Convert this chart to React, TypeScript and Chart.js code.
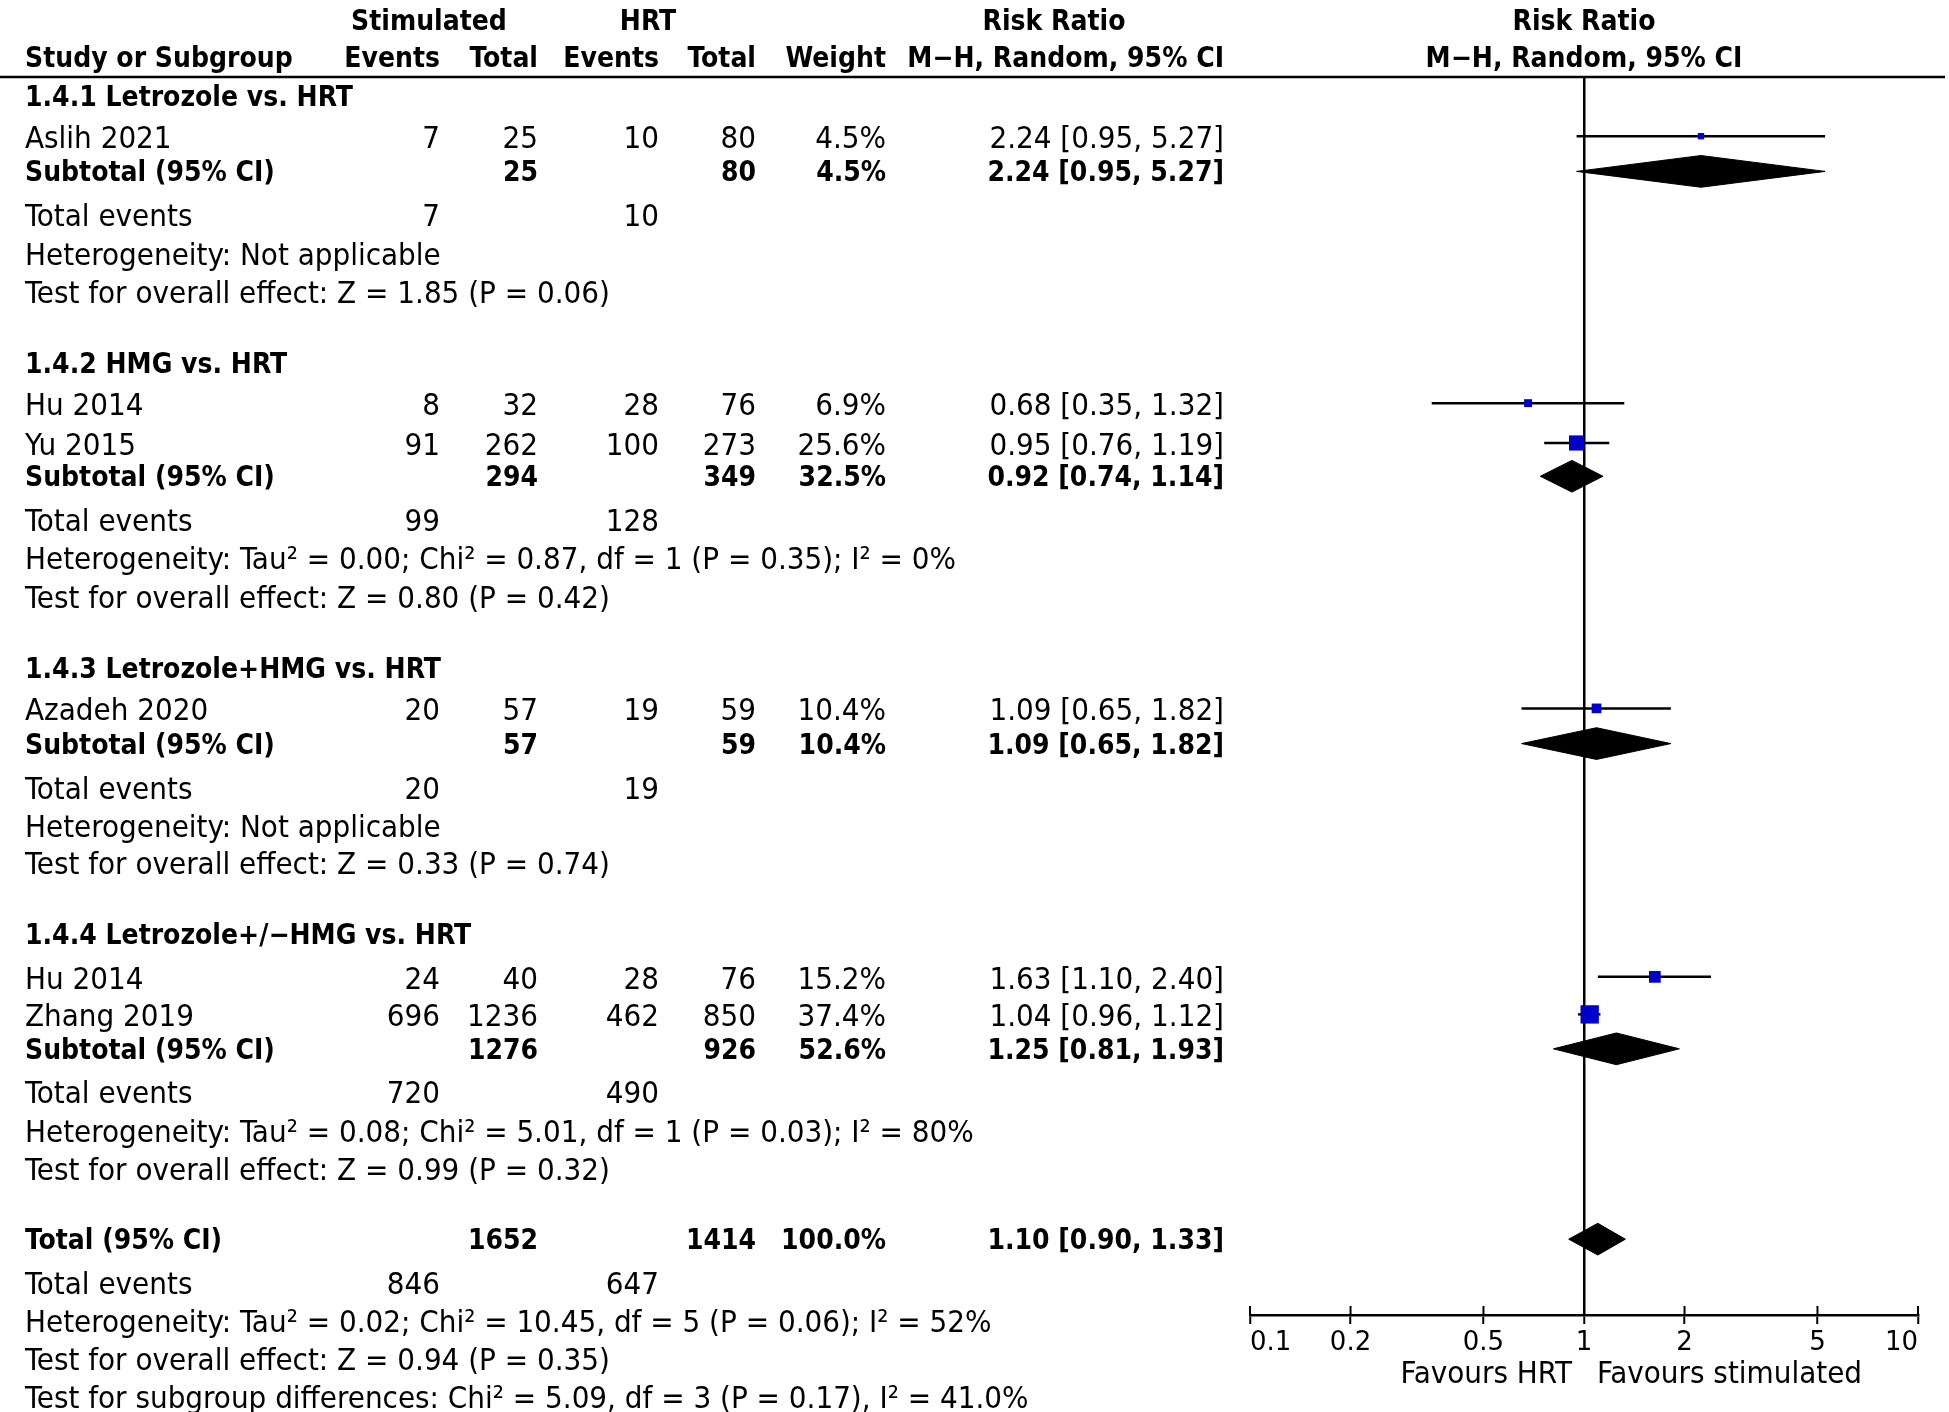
import React, { useEffect, useRef } from 'react';
import { Chart, registerables } from 'chart.js';

Chart.register(...registerables);

// ---------------- data ----------------
const studyNames = ['Aslih 2021', 'Hu 2014', 'Yu 2015', 'Azadeh 2020', 'Hu 2014', 'Zhang 2019'];
const stimEvents = [7, 8, 91, 20, 24, 696];
const stimTotal = [25, 32, 262, 57, 40, 1236];
const hrtEvents = [10, 28, 100, 19, 28, 462];
const hrtTotal = [80, 76, 273, 59, 76, 850];
const studyWeight = [4.5, 6.9, 25.6, 10.4, 15.2, 37.4];
const studyRR = [2.24, 0.68, 0.95, 1.09, 1.63, 1.04];
const studyLo = [0.95, 0.35, 0.76, 0.65, 1.1, 0.96];
const studyHi = [5.27, 1.32, 1.19, 1.82, 2.4, 1.12];

const groupTitles = [
  '1.4.1 Letrozole vs. HRT',
  '1.4.2 HMG vs. HRT',
  '1.4.3 Letrozole+HMG vs. HRT',
  '1.4.4 Letrozole+/\u2212HMG vs. HRT',
];
const groupStimTotal = [25, 294, 57, 1276];
const groupHrtTotal = [80, 349, 59, 926];
const groupWeight = [4.5, 32.5, 10.4, 52.6];
const groupRR = [2.24, 0.92, 1.09, 1.25];
const groupLo = [0.95, 0.74, 0.65, 0.81];
const groupHi = [5.27, 1.14, 1.82, 1.93];
const groupStimEvents = [7, 99, 20, 720];
const groupHrtEvents = [10, 128, 19, 490];
const groupHet = [
  'Heterogeneity: Not applicable',
  'Heterogeneity: Tau\u00b2 = 0.00; Chi\u00b2 = 0.87, df = 1 (P = 0.35); I\u00b2 = 0%',
  'Heterogeneity: Not applicable',
  'Heterogeneity: Tau\u00b2 = 0.08; Chi\u00b2 = 5.01, df = 1 (P = 0.03); I\u00b2 = 80%',
];
const groupTest = [
  'Test for overall effect: Z = 1.85 (P = 0.06)',
  'Test for overall effect: Z = 0.80 (P = 0.42)',
  'Test for overall effect: Z = 0.33 (P = 0.74)',
  'Test for overall effect: Z = 0.99 (P = 0.32)',
];

const totalStim = 1652;
const totalHrt = 1414;
const totalWeight = 100.0;
const totalRR = 1.1;
const totalLo = 0.9;
const totalHi = 1.33;
const totalStimEvents = 846;
const totalHrtEvents = 647;
const totalHet = 'Heterogeneity: Tau\u00b2 = 0.02; Chi\u00b2 = 10.45, df = 5 (P = 0.06); I\u00b2 = 52%';
const totalTest = 'Test for overall effect: Z = 0.94 (P = 0.35)';
const subgroupTest = 'Test for subgroup differences: Chi\u00b2 = 5.09, df = 3 (P = 0.17), I\u00b2 = 41.0%';

const xTicks = [0.1, 0.2, 0.5, 1, 2, 5, 10];

// ---------------- layout (row positions in line units) ----------------
const headerRows = [-1.47, -0.52];
const groupTitleRow = [0.48, 7.4, 15.28, 22.16];
const studyRow = [1.53, 8.43, 9.46, 16.32, 23.26, 24.23];
const subtotalRow = [2.44, 10.32, 17.23, 25.12];
const groupEventsRow = [3.57, 11.45, 18.37, 26.23];
const groupHetRow = [4.57, 12.44, 19.35, 27.24];
const groupTestRow = [5.56, 13.44, 20.32, 28.22];
const totalRow = 30.04;
const totalEventsRow = 31.16;
const totalHetRow = 32.15;
const totalTestRow = 33.15;
const subgroupRow = 34.12;

const COL = { study: 25, stimEv: 440, stimTot: 538, hrtEv: 659, hrtTot: 756, weight: 886, rr: 1224 };
const FONT = '"DejaVu Sans Condensed", "DejaVu Sans", sans-serif';
const FS = 31;
const FS_BOLD = 28;
const STUDY_TEXT_SHIFT = 1;
const DIAMOND_HALF = 0.41;
const SQUARE_COLOR = '#0000C8';

const fmtRR = (rr: number, lo: number, hi: number) => `${rr.toFixed(2)} [${lo.toFixed(2)}, ${hi.toFixed(2)}]`;
const fmtW = (w: number) => `${w.toFixed(1)}%`;

const diamond = (rr: number, lo: number, hi: number, row: number) => ({
  type: 'line' as const,
  data: [
    { x: lo, y: row },
    { x: rr, y: row - DIAMOND_HALF },
    { x: hi, y: row },
    { x: rr, y: row + DIAMOND_HALF },
    { x: lo, y: row },
  ],
  borderColor: '#000',
  borderWidth: 1,
  backgroundColor: '#000',
  fill: 'shape' as const,
  pointRadius: 0,
  tension: 0,
});

const ciLine = (lo: number, hi: number, row: number) => ({
  type: 'line' as const,
  data: [
    { x: lo, y: row },
    { x: hi, y: row },
  ],
  borderColor: '#000',
  borderWidth: 2.5,
  pointRadius: 0,
  fill: false,
  tension: 0,
});

const tablePlugin = {
  id: 'forestTable',
  afterDraw(chart: any) {
    const ctx: CanvasRenderingContext2D = chart.ctx;
    const ys = chart.scales.y;
    const xs = chart.scales.x;
    const py = (r: number) => ys.getPixelForValue(r);
    const one = xs.getPixelForValue(1);
    ctx.save();
    ctx.fillStyle = '#000';
    ctx.textBaseline = 'alphabetic';
    const T = (s: string, x: number, row: number, align: CanvasTextAlign, bold = false, shift = 0) => {
      ctx.font = bold ? `bold ${FS_BOLD}px ${FONT}` : `${FS}px ${FONT}`;
      ctx.textAlign = align;
      ctx.fillText(s, x, py(row) + (bold ? 10 : 11) + shift);
    };

    // header line
    ctx.strokeStyle = '#000';
    ctx.lineWidth = 2.5;
    ctx.beginPath();
    ctx.moveTo(0, chart.chartArea.top);
    ctx.lineTo(1945, chart.chartArea.top);
    ctx.stroke();

    // headers
    T('Stimulated', 429, headerRows[0], 'center', true);
    T('HRT', 648, headerRows[0], 'center', true);
    T('Risk Ratio', 1054, headerRows[0], 'center', true);
    T('Risk Ratio', one, headerRows[0], 'center', true);
    T('Study or Subgroup', COL.study, headerRows[1], 'left', true);
    T('Events', COL.stimEv, headerRows[1], 'right', true);
    T('Total', COL.stimTot, headerRows[1], 'right', true);
    T('Events', COL.hrtEv, headerRows[1], 'right', true);
    T('Total', COL.hrtTot, headerRows[1], 'right', true);
    T('Weight', COL.weight, headerRows[1], 'right', true);
    T('M\u2212H, Random, 95% CI', COL.rr, headerRows[1], 'right', true);
    T('M\u2212H, Random, 95% CI', one, headerRows[1], 'center', true);

    // studies
    studyNames.forEach((n, i) => {
      const r = studyRow[i];
      const s = STUDY_TEXT_SHIFT;
      T(n, COL.study, r, 'left', false, s);
      T(String(stimEvents[i]), COL.stimEv, r, 'right', false, s);
      T(String(stimTotal[i]), COL.stimTot, r, 'right', false, s);
      T(String(hrtEvents[i]), COL.hrtEv, r, 'right', false, s);
      T(String(hrtTotal[i]), COL.hrtTot, r, 'right', false, s);
      T(fmtW(studyWeight[i]), COL.weight, r, 'right', false, s);
      T(fmtRR(studyRR[i], studyLo[i], studyHi[i]), COL.rr, r, 'right', false, s);
    });

    // groups
    groupTitles.forEach((t, g) => {
      T(t, COL.study, groupTitleRow[g], 'left', true);
      const r = subtotalRow[g];
      T('Subtotal (95% CI)', COL.study, r, 'left', true);
      T(String(groupStimTotal[g]), COL.stimTot, r, 'right', true);
      T(String(groupHrtTotal[g]), COL.hrtTot, r, 'right', true);
      T(fmtW(groupWeight[g]), COL.weight, r, 'right', true);
      T(fmtRR(groupRR[g], groupLo[g], groupHi[g]), COL.rr, r, 'right', true);
      T('Total events', COL.study, groupEventsRow[g], 'left');
      T(String(groupStimEvents[g]), COL.stimEv, groupEventsRow[g], 'right');
      T(String(groupHrtEvents[g]), COL.hrtEv, groupEventsRow[g], 'right');
      T(groupHet[g], COL.study, groupHetRow[g], 'left');
      T(groupTest[g], COL.study, groupTestRow[g], 'left');
    });

    // overall
    T('Total (95% CI)', COL.study, totalRow, 'left', true);
    T(String(totalStim), COL.stimTot, totalRow, 'right', true);
    T(String(totalHrt), COL.hrtTot, totalRow, 'right', true);
    T(fmtW(totalWeight), COL.weight, totalRow, 'right', true);
    T(fmtRR(totalRR, totalLo, totalHi), COL.rr, totalRow, 'right', true);
    T('Total events', COL.study, totalEventsRow, 'left');
    T(String(totalStimEvents), COL.stimEv, totalEventsRow, 'right');
    T(String(totalHrtEvents), COL.hrtEv, totalEventsRow, 'right');
    T(totalHet, COL.study, totalHetRow, 'left');
    T(totalTest, COL.study, totalTestRow, 'left');
    T(subgroupTest, COL.study, subgroupRow, 'left');

    // upward tick stubs on axis
    const axisY = chart.chartArea.bottom;
    ctx.lineWidth = 2;
    xs.ticks.forEach((t: any) => {
      const px = xs.getPixelForValue(t.value);
      ctx.beginPath();
      ctx.moveTo(px, axisY - 9);
      ctx.lineTo(px, axisY);
      ctx.stroke();
    });

    // favours labels
    ctx.font = `${FS}px ${FONT}`;
    ctx.textAlign = 'right';
    ctx.fillText('Favours HRT', one - 12, axisY + 68);
    ctx.textAlign = 'left';
    ctx.fillText('Favours stimulated', one + 13, axisY + 68);
    ctx.restore();
  },
};

export default function App() {
  const ref = useRef<HTMLCanvasElement | null>(null);
  useEffect(() => {
    if (!ref.current) return;
    const squares = {
      type: 'scatter' as const,
      data: studyRR.map((v, i) => ({ x: v, y: studyRow[i] })),
      pointStyle: 'rect',
      pointRadius: studyWeight.map((w) => (3 * Math.sqrt(w)) / Math.SQRT2),
      pointBackgroundColor: SQUARE_COLOR,
      pointBorderWidth: 0,
      borderWidth: 0,
      showLine: false,
    };
    const datasets: any[] = [
      squares,
      ...studyRR.map((_, i) => ciLine(studyLo[i], studyHi[i], studyRow[i])),
      ...groupRR.map((rr, g) => diamond(rr, groupLo[g], groupHi[g], subtotalRow[g])),
      diamond(totalRR, totalLo, totalHi, totalRow),
    ];
    const chart = new Chart(ref.current, {
      type: 'line',
      data: { datasets },
      options: {
        animation: false,
        responsive: false,
        devicePixelRatio: 1,
        layout: { padding: { left: 1250, right: 31, top: 77, bottom: 37 } },
        plugins: { legend: { display: false }, tooltip: { enabled: false } },
        scales: {
          x: {
            type: 'logarithmic',
            min: 0.1,
            max: 10,
            afterBuildTicks: (scale: any) => {
              scale.ticks = xTicks.map((v) => ({ value: v }));
            },
            afterFit: (scale: any) => {
              scale.height = 60;
            },
            border: { display: true, color: '#000', width: 2.5 },
            grid: {
              color: (c: any) => (c.tick && c.tick.value === 1 ? '#000' : 'rgba(0,0,0,0)'),
              lineWidth: 2.5,
              drawOnChartArea: true,
              drawTicks: true,
              tickLength: 9,
              tickColor: '#000',
              tickWidth: 2,
            },
            ticks: {
              align: 'inner',
              autoSkip: false,
              maxRotation: 0,
              padding: 4,
              color: '#000',
              font: { family: '"DejaVu Sans", sans-serif', size: 26 },
              callback: (v: any) => String(v),
            },
          },
          y: {
            type: 'linear',
            min: 0,
            max: 32,
            reverse: true,
            display: false,
          },
        },
      },
      plugins: [tablePlugin],
    } as any);
    return () => chart.destroy();
  }, []);
  return (
    <canvas
      ref={ref}
      width={1949}
      height={1412}
      style={{ position: 'fixed', left: 0, top: 0, width: 1949, height: 1412 }}
    />
  );
}
